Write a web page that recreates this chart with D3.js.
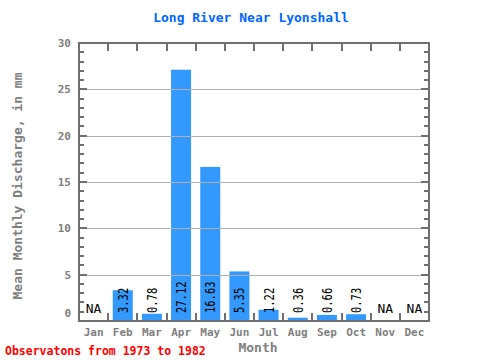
<!DOCTYPE html>
<html>
<head>
<meta charset="utf-8">
<script src="https://cdn.jsdelivr.net/npm/d3@7"></script>
<style>
html,body{margin:0;padding:0;background:#fff;}
svg{display:block;}
</style>
</head>
<body>
<svg id="chart" width="480" height="360"></svg>
<script>
const months = ["Jan","Feb","Mar","Apr","May","Jun","Jul","Aug","Sep","Oct","Nov","Dec"];
const values = [null, 3.32, 0.78, 27.12, 16.63, 5.35, 1.22, 0.36, 0.66, 0.73, null, null];
const valueLabels = ["NA","3.32","0.78","27.12","16.63","5.35","1.22","0.36","0.66","0.73","NA","NA"];
const yTicks = [0, 5, 10, 15, 20, 25, 30];
const titleText = "Long River Near Lyonshall";
const yLabelText = "Mean Monthly Discharge, in mm";
const xLabelText = "Month";
const footerText = "Observatons from 1973 to 1982";

const svg = d3.select("#chart");
const L = 79, R = 429, T = 43, B = 321;
const mono = "'DejaVu Sans Mono', 'Liberation Mono', monospace";
const axisGrey = "#808080";
const frameGrey = "#707070";

const x = d3.scaleBand().domain(months).range([L, R]).paddingInner(0.314).paddingOuter(0.157);
const xEdge = d3.scaleBand().domain(months).range([L, R]).padding(0);
const y = d3.scaleLinear().domain([0, 30]).range([B, T]);

// bars
svg.append("g").selectAll("rect")
  .data(months.map((m, i) => ({m, v: values[i]})).filter(d => d.v !== null))
  .join("rect")
  .attr("x", d => x(d.m))
  .attr("width", x.bandwidth())
  .attr("y", d => y(d.v))
  .attr("height", d => y(0) - y(d.v))
  .attr("fill", "#3399ff");

// gridlines
svg.append("g").selectAll("line")
  .data(yTicks.filter(t => t > 0 && t < 30))
  .join("line")
  .attr("x1", L).attr("x2", R - 8)
  .attr("y1", d => Math.round(y(d)) + 0.5).attr("y2", d => Math.round(y(d)) + 0.5)
  .attr("stroke", "#b0b0b0").attr("stroke-width", 1);

// minor/major y ticks left and right
const yMinor = d3.range(0, 31);
const tickG = svg.append("g").attr("stroke", frameGrey).attr("stroke-width", 2);
yMinor.forEach(v => {
  const len = v % 5 === 0 ? 8 : 5;
  const yy = Math.round(y(v));
  tickG.append("line").attr("x1", L).attr("x2", L + len).attr("y1", yy).attr("y2", yy);
  tickG.append("line").attr("x1", R).attr("x2", R - len).attr("y1", yy).attr("y2", yy);
});
// x boundary ticks top and bottom
months.slice(1).forEach(m => {
  const xx = Math.round(xEdge(m));
  tickG.append("line").attr("x1", xx).attr("x2", xx).attr("y1", B).attr("y2", B - 8);
  tickG.append("line").attr("x1", xx).attr("x2", xx).attr("y1", T).attr("y2", T + 8);
});

// frame
svg.append("rect").attr("x", L).attr("y", T).attr("width", R - L).attr("height", B - T)
  .attr("fill", "none").attr("stroke", frameGrey).attr("stroke-width", 2);

// y tick labels
svg.append("g").selectAll("text")
  .data(yTicks)
  .join("text")
  .attr("x", 71)
  .attr("y", d => d === 0 ? y(d) - 4 : y(d) + 4)
  .attr("text-anchor", "end")
  .attr("font-family", mono).attr("font-weight", "bold").attr("font-size", "11px")
  .attr("fill", axisGrey)
  .text(d => d);

// month labels
svg.append("g").selectAll("text")
  .data(months)
  .join("text")
  .attr("x", d => x(d) + x.bandwidth() / 2)
  .attr("y", 336)
  .attr("text-anchor", "middle")
  .attr("font-family", mono).attr("font-weight", "bold").attr("font-size", "11px")
  .attr("fill", axisGrey)
  .text(d => d);

// value labels
const vl = svg.append("g");
months.forEach((m, i) => {
  const cx = x(m) + x.bandwidth() / 2;
  if (values[i] === null) {
    vl.append("text").attr("x", cx).attr("y", 313)
      .attr("text-anchor", "middle")
      .attr("font-family", mono).attr("font-size", "13px").attr("fill", "#000")
      .text(valueLabels[i]);
  } else {
    vl.append("text")
      .attr("transform", `translate(${cx + 5},313) rotate(-90)`)
      .attr("text-anchor", "start")
      .attr("font-family", mono).attr("font-size", "13.5px").attr("fill", "#000")
      .attr("textLength", valueLabels[i].length * 6.3).attr("lengthAdjust", "spacingAndGlyphs")
      .text(valueLabels[i]);
  }
});

// title
svg.append("text").attr("x", 251).attr("y", 22)
  .attr("text-anchor", "middle")
  .attr("font-family", mono).attr("font-weight", "bold").attr("font-size", "13px")
  .attr("fill", "#0066ff").text(titleText);

// y label
svg.append("text").attr("transform", "translate(22,186) rotate(-90)")
  .attr("text-anchor", "middle")
  .attr("font-family", mono).attr("font-weight", "bold").attr("font-size", "13px")
  .attr("fill", axisGrey).text(yLabelText);

// x label
svg.append("text").attr("x", 258).attr("y", 352)
  .attr("text-anchor", "middle")
  .attr("font-family", mono).attr("font-weight", "bold").attr("font-size", "13px")
  .attr("fill", axisGrey).text(xLabelText);

// footer
svg.append("text").attr("x", 5).attr("y", 355)
  .attr("text-anchor", "start")
  .attr("font-family", mono).attr("font-weight", "bold").attr("font-size", "11.5px")
  .attr("fill", "#ff0000").text(footerText);
</script>
</body>
</html>
